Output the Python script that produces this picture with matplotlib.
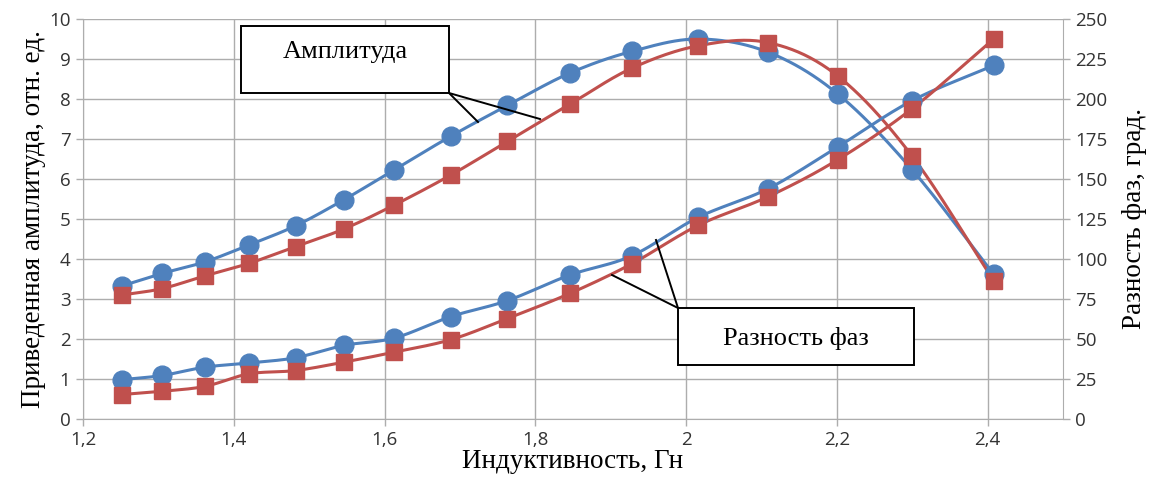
import numpy as np
import matplotlib
matplotlib.use("Agg")
import matplotlib.pyplot as plt

# values
inductance = [1.252, 1.305, 1.362, 1.420, 1.482, 1.546, 1.613, 1.688,
              1.763, 1.846, 1.928, 2.016, 2.109, 2.201, 2.300, 2.408]

amp_blue = [3.33, 3.64, 3.93, 4.35, 4.83, 5.48, 6.23, 7.07,
            7.84, 8.65, 9.19, 9.50, 9.17, 8.13, 6.23, 3.62]
amp_red = [3.10, 3.26, 3.58, 3.89, 4.31, 4.75, 5.35, 6.10,
           6.94, 7.87, 8.77, 9.33, 9.41, 8.58, 6.57, 3.46]

phase_blue = [24.6, 27.2, 32.4, 35.0, 38.3, 46.0, 50.6, 64.0,
              74.0, 90.0, 102.0, 126.0, 144.0, 170.0, 199.0, 221.0]
phase_red = [15.3, 17.3, 20.4, 28.2, 30.3, 35.5, 41.8, 49.6,
             62.8, 78.5, 97.0, 121.0, 139.0, 162.0, 194.0, 237.5]

x_ticks = [1.2, 1.4, 1.6, 1.8, 2.0, 2.2, 2.4]
x_tick_labels = ["1,2", "1,4", "1,6", "1,8", "2", "2,2", "2,4"]

BLUE = "#4F81BD"
RED = "#C0504D"
GRID = "#ADADAD"


def smooth(x, y, n=24):
    # Catmull-Rom curve through the points, like Excel's smoothed line
    x = np.asarray(x, float)
    y = np.asarray(y, float)
    px = np.concatenate([[2 * x[0] - x[1]], x, [2 * x[-1] - x[-2]]])
    py = np.concatenate([[2 * y[0] - y[1]], y, [2 * y[-1] - y[-2]]])
    t = np.linspace(0, 1, n)[:, None]
    xs, ys = [], []
    for i in range(1, len(px) - 2):
        p = np.array([[px[i - 1], py[i - 1]], [px[i], py[i]],
                      [px[i + 1], py[i + 1]], [px[i + 2], py[i + 2]]])
        c = 0.5 * ((2 * p[1]) + (-p[0] + p[2]) * t
                   + (2 * p[0] - 5 * p[1] + 4 * p[2] - p[3]) * t ** 2
                   + (-p[0] + 3 * p[1] - 3 * p[2] + p[3]) * t ** 3)
        xs.append(c[:, 0])
        ys.append(c[:, 1])
    return np.concatenate(xs), np.concatenate(ys)


fig = plt.figure(figsize=(11.5, 4.79), dpi=100)
ax = fig.add_axes([0.0722, 0.1253, 0.8521, 0.835])
ax2 = ax.twinx()

tick_font = dict(family=["Open Sans", "DejaVu Sans"], size=13.5, color="#333333")
label_font = dict(family=["Liberation Serif", "DejaVu Serif"], size=19.5)

for yv, col, mk, ms in [(amp_blue, BLUE, "o", 13.5), (amp_red, RED, "s", 12)]:
    sx, sy = smooth(inductance, yv)
    ax.plot(sx, sy, color=col, lw=2.2, zorder=3)
    ax.plot(inductance, yv, ls="none", marker=mk, ms=ms, color=col,
            mec=col, zorder=4)

for yv, col, mk, ms in [(phase_blue, BLUE, "o", 13.5), (phase_red, RED, "s", 12)]:
    sx, sy = smooth(inductance, yv)
    ax2.plot(sx, sy, color=col, lw=2.2, zorder=3)
    ax2.plot(inductance, yv, ls="none", marker=mk, ms=ms, color=col,
             mec=col, zorder=4)

ax.set_xlim(1.2, 2.5)
ax.set_ylim(0, 10)
ax2.set_ylim(0, 250)
ax.set_xticks(x_ticks)
ax.set_xticklabels(x_tick_labels, **tick_font)
ax.set_yticks(range(0, 11))
ax.set_yticklabels([str(v) for v in range(0, 11)], **tick_font)
ax2.set_yticks(range(0, 251, 25))
ax2.set_yticklabels([str(v) for v in range(0, 251, 25)], **tick_font)

ax.grid(True, color=GRID, lw=1)
ax.set_axisbelow(True)
for a in (ax, ax2):
    for s in a.spines.values():
        s.set_visible(False)
    a.tick_params(length=5, width=1, color=GRID, pad=4)
ax.spines["left"].set_visible(True)
ax.spines["left"].set_color(GRID)
ax.spines["bottom"].set_visible(True)
ax.spines["bottom"].set_color(GRID)
ax2.spines["right"].set_visible(True)
ax2.spines["right"].set_color(GRID)

ax.set_xlabel("Индуктивность, Гн", labelpad=0, **label_font)
ax.set_ylabel("Приведенная амплитуда, отн. ед.", labelpad=2, **label_font)
ax2.set_ylabel("Разность фаз, град.", labelpad=10, **label_font)

# callout boxes with leader lines (figure pixel coordinates -> fraction)
W, H = 1150.0, 479.0


def fx(px):
    return px / W


def fy(py):
    return 1 - py / H


box_font = dict(family=["Liberation Serif", "DejaVu Serif"], size=19)
callouts = [
    ((241, 26, 449, 93), "Амплитуда", 52, (449, 93), [(478, 122), (540, 119)]),
    ((678, 308, 914, 365), "Разность фаз", 338, (678, 308), [(656, 240), (612, 275)]),
]
for (x0, y0, x1, y1), text, ty, corner, ends in callouts:
    for ex, ey in ends:
        fig.add_artist(plt.Line2D([fx(corner[0]), fx(ex)], [fy(corner[1]), fy(ey)],
                                  color="black", lw=1.4, zorder=10))
    fig.add_artist(plt.Rectangle((fx(x0), fy(y1)), fx(x1) - fx(x0), fy(y0) - fy(y1),
                                 facecolor="white", edgecolor="black", lw=1.4,
                                 zorder=11))
    fig.text(fx((x0 + x1) / 2), fy(ty), text, ha="center", va="center",
             zorder=12, **box_font)

fig.savefig("out.png", dpi=100)
